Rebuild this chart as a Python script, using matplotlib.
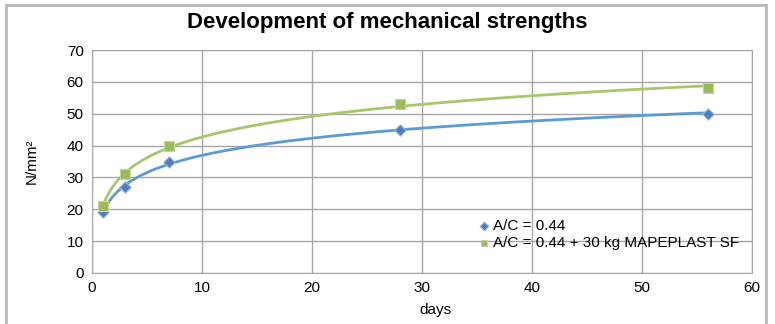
import numpy as np
import matplotlib
matplotlib.use("Agg")
import matplotlib.pyplot as plt
from matplotlib.patches import Rectangle

plt.rcParams["font.family"] = ["Liberation Sans", "DejaVu Sans"]

# -----------------------------------------------
# Data: compressive strength (N/mm²) vs curing days
# -----------------------------------------------
days = [1, 3, 7, 28, 56]
strength_plain = [19, 27, 35, 45, 50]
strength_sf = [21, 31, 40, 53, 58]

label_plain = "A/C = 0.44"
label_sf = "A/C = 0.44 + 30 kg MAPEPLAST SF"

BLUE_LINE = "#5b9bd5"
BLUE_MARK = "#4f7fc0"
GREEN_LINE = "#a8c66c"
GREEN_MARK = "#9bbb59"
GRID = "#a6a6a6"

fig = plt.figure(figsize=(7.75, 3.24), dpi=100)
ax = fig.add_axes([92 / 775, 51 / 324, 660 / 775, 223 / 324])

# chart border
fig.patches.append(Rectangle((6 / 775, -0.05), 760 / 775, 1.05 - 5 / 324,
                             transform=fig.transFigure, fill=False,
                             edgecolor="#b8b8b8", lw=2))

# logarithmic trendlines fitted to each series
xs = np.linspace(min(days), max(days), 300)
for vals, lc in [(strength_plain, BLUE_LINE), (strength_sf, GREEN_LINE)]:
    a, b = np.polyfit(np.log(days), vals, 1)
    ax.plot(xs, a * np.log(xs) + b, color=lc, lw=2, zorder=3)

ax.scatter(days, strength_plain, marker="D", s=34, color=BLUE_MARK,
           edgecolor="#9bb7e0", linewidth=0.8, zorder=4, label=label_plain)
ax.scatter(days, strength_sf, marker="s", s=55, color=GREEN_MARK,
           edgecolor="#c3d69b", linewidth=0.8, zorder=4, label=label_sf)

ax.set_xlim(0, 60)
ax.set_ylim(0, 70)
ax.set_xticks(range(0, 61, 10))
ax.set_yticks(range(0, 71, 10))
ax.grid(True, color=GRID, lw=1)
ax.set_axisbelow(True)
for s in ax.spines.values():
    s.set_color(GRID)
ax.tick_params(length=0, labelsize=11, pad=6)

ax.set_xlabel("days", fontsize=11)
ax.xaxis.set_label_coords(0.52, -0.165)
ax.xaxis.label.set_va("center")
ax.set_ylabel("N/mm²", fontsize=11, labelpad=20)

fig.text(0.5, 0.93, "Development of mechanical strengths",
         ha="center", va="center", fontsize=16, fontweight="bold")

leg = ax.legend(loc="lower left", bbox_to_anchor=(0.575, 0.07), frameon=False,
                fontsize=11, handlelength=0.6, handletextpad=0.3,
                labelspacing=0.2, borderpad=0)
for h in leg.legend_handles:
    h.set_sizes([20])

fig.savefig("out.png", dpi=100)
